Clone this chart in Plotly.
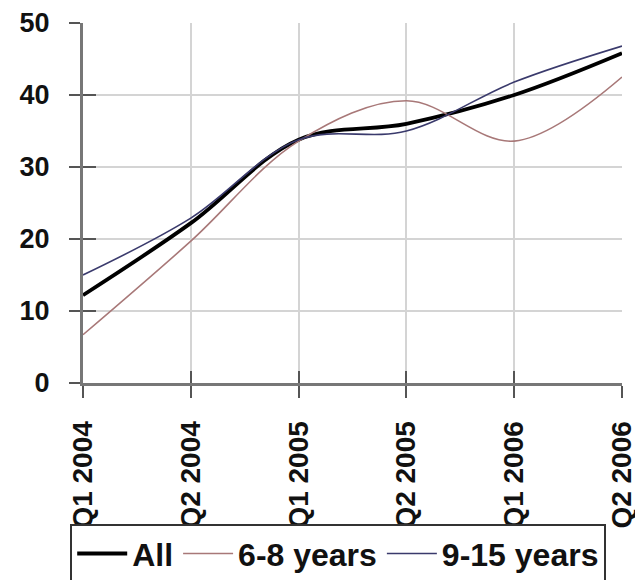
import plotly.graph_objects as go

categories = ["Q1 2004", "Q2 2004", "Q1 2005", "Q2 2005", "Q1 2006", "Q2 2006"]
all_vals = [12.2, 22.2, 33.8, 36.0, 40.0, 45.8]
yrs_6_8 = [6.7, 19.7, 33.6, 39.2, 33.6, 42.5]
yrs_9_15 = [15.0, 22.9, 33.8, 35.0, 41.8, 46.8]
y_ticks = [0, 10, 20, 30, 40, 50]

SANS = "Liberation Sans, Arial, sans-serif"

fig = go.Figure()
fig.add_trace(go.Scatter(x=categories, y=all_vals, name="All", mode="lines",
                         line=dict(color="#000000", width=3.8, shape="spline", smoothing=1.0)))
fig.add_trace(go.Scatter(x=categories, y=yrs_6_8, name="6-8 years", mode="lines",
                         line=dict(color="#a87878", width=1.6, shape="spline", smoothing=1.0)))
fig.add_trace(go.Scatter(x=categories, y=yrs_9_15, name="9-15 years", mode="lines",
                         line=dict(color="#3a3a6c", width=1.6, shape="spline", smoothing=1.0)))

fig.update_layout(
    width=635, height=580,
    margin=dict(l=75, r=21, t=15, b=205),
    paper_bgcolor="white", plot_bgcolor="white",
    showlegend=True,
    legend=dict(orientation="h", xref="container", yref="container",
                x=0.52, xanchor="center", y=0.11, yanchor="top",
                bgcolor="white", bordercolor="#333333", borderwidth=2,
                font=dict(family=SANS, size=32, color="#111111", weight="bold"),
                itemwidth=50, tracegroupgap=0),
    xaxis=dict(type="category", categoryorder="array", categoryarray=categories,
               range=[0, 5], showgrid=True, gridcolor="#d4d4d4", gridwidth=1.5,
               showline=True, linecolor="#777777", linewidth=3,
               ticks="outside", ticklen=12, tickwidth=2, tickcolor="#555555",
               tickangle=-90, ticklabelstandoff=12, automargin=False,
               tickfont=dict(family=SANS, size=28, color="#111111", weight="bold"),
               zeroline=False),
    xaxis2=dict(type="category", categoryorder="array", categoryarray=categories,
                range=[0, 5], overlaying="x", side="bottom", anchor="y",
                showgrid=False, showline=False, showticklabels=False,
                ticks="inside", ticklen=12, tickwidth=2, tickcolor="#555555"),
    yaxis=dict(range=[0, 50], tickvals=y_ticks, showgrid=True, gridcolor="#d4d4d4",
               gridwidth=1.5, showline=True, linecolor="#777777", linewidth=3,
               ticks="outside", ticklen=11, tickwidth=2, tickcolor="#555555",
               ticklabelstandoff=14, automargin=False,
               tickfont=dict(family=SANS, size=27, color="#111111", weight="bold"),
               zeroline=False),
    yaxis2=dict(range=[0, 50], tickvals=y_ticks, overlaying="y", side="left", anchor="x",
                showgrid=False, showline=False, showticklabels=False,
                ticks="inside", ticklen=13, tickwidth=2, tickcolor="#555555"),
)
# invisible trace to activate the overlaid axes that carry the inner tick marks
fig.add_trace(go.Scatter(x=categories, y=all_vals, xaxis="x2", yaxis="y2",
                         mode="lines", line=dict(width=0), hoverinfo="skip",
                         showlegend=False, opacity=0))

fig.write_html("out.html")
